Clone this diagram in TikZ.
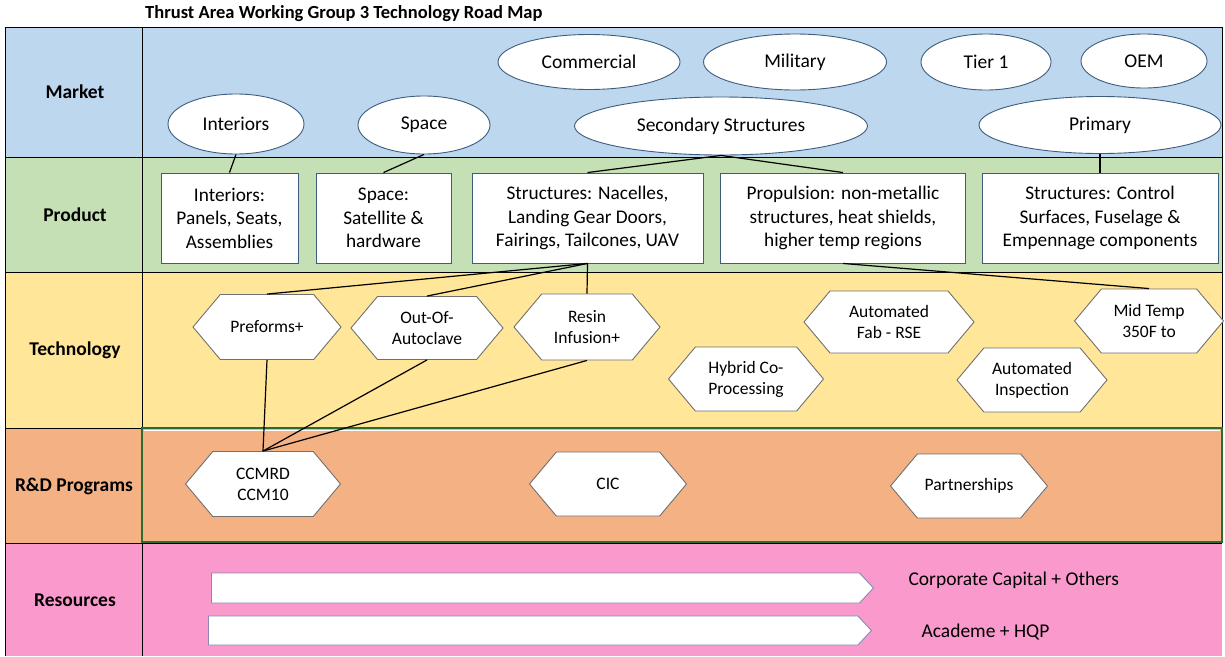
\documentclass[tikz,border=0pt]{standalone}
\usepackage{fontspec}
\setmainfont{Carlito}
\usetikzlibrary{shapes.geometric,shapes.symbols}
\definecolor{mkt}{HTML}{BDD7EE}
\definecolor{prd}{HTML}{C5E0B4}
\definecolor{tec}{HTML}{FFE699}
\definecolor{rnd}{HTML}{F4B183}
\definecolor{res}{HTML}{FA9ACC}
\definecolor{shp}{HTML}{3E5C7E}
\definecolor{hexc}{HTML}{707070}
\definecolor{arrc}{HTML}{8A86B8}
\definecolor{rndb}{HTML}{2E6B30}
\begin{document}
\begin{tikzpicture}[x=1pt,y=-1pt,
  ell/.style={ellipse, draw=shp, fill=white, line width=0.9pt, inner sep=0pt, font=\fontsize{19.5}{23.5}\selectfont},
  pbox/.style={rectangle, draw=shp, fill=white, line width=0.9pt, align=center, inner sep=0pt, minimum height=90pt, font=\fontsize{19.3}{23.5}\selectfont},
  hexn/.style={signal, signal to=east and west, signal pointer angle=100, draw=hexc, fill=white, line width=0.9pt, align=center, inner sep=0pt, font=\fontsize{17.5}{21}\selectfont},
  resarrow/.style={signal, signal to=east, signal from=nowhere, signal pointer angle=94, draw=arrc, fill=white, line width=0.9pt, inner sep=0pt, anchor=west},
  rowlab/.style={font=\fontsize{19.5}{23}\selectfont\bfseries},
  reslab/.style={anchor=west, font=\fontsize{19.5}{23}\selectfont},
  link/.style={line width=1.2pt, black},
  tbl/.style={line width=1pt, black}
]
\useasboundingbox (0,0) rectangle (1225,656);
% bands
\fill[mkt] (5,27) rectangle (1222,157);
\fill[prd] (5,157) rectangle (1222,272);
\fill[tec] (5,272) rectangle (1222,428);
\fill[rnd] (5,428) rectangle (1222,543);
\fill[res] (5,543) rectangle (1222,656);
% table lines
\draw[tbl] (5,656) -- (5,27) -- (1222,27) -- (1222,543);
\draw[tbl] (142,27) -- (142,656);
\draw[tbl] (5,157) -- (1222,157);
\draw[tbl] (5,272) -- (1222,272);
\draw[tbl] (5,428) -- (142,428);
\draw[tbl] (5,543) -- (1222,543);
\draw[rndb, line width=1.5pt] (142,428) rectangle (1222,542);
\draw[white, line width=1pt] (144,430.5) -- (1220,430.5);
% title
\node[font=\fontsize{18.5}{22}\selectfont\bfseries, anchor=west, inner sep=0pt] (title) at (145,14) {Thrust Area Working Group 3 Technology Road Map};
% row labels
\node[rowlab] (lmkt) at (75,92) {Market};
\node[rowlab] (lprd) at (75,215) {Product};
\node[rowlab] (ltec) at (75,350) {Technology};
\node[rowlab] (lrnd) at (74,486) {R\&D Programs};
\node[rowlab] (lres) at (75,600) {Resources};
% market ellipses
\node[ell, minimum width=182pt, minimum height=55pt] (ecom) at (589,62) {Commercial};
\node[ell, minimum width=183pt, minimum height=56pt] (emil) at (795,62) {Military};
\node[ell, minimum width=130pt, minimum height=56pt] (etier) at (986,62) {Tier 1};
\node[ell, minimum width=126pt, minimum height=54pt] (eoem) at (1144,61) {OEM};
\node[ell, minimum width=136pt, minimum height=60pt] (eint) at (236,124) {Interiors};
\node[ell, minimum width=132pt, minimum height=58pt] (espa) at (424,125) {Space};
\node[ell, minimum width=293pt, minimum height=58pt] (esec) at (721,126) {Secondary Structures};
\node[ell, minimum width=242pt, minimum height=57pt] (epri) at (1100,125) {Primary};
% product boxes
\node[pbox, minimum width=137pt] (pint) at (229.5,218) {Interiors:\\Panels, Seats,\\Assemblies};
\node[pbox, minimum width=135pt] (pspa) at (383.5,218) {Space:\\Satellite \&\\hardware};
\node[pbox, minimum width=231pt] (pnac) at (587.5,218) {Structures: Nacelles,\\Landing Gear Doors,\\Fairings, Tailcones, UAV};
\node[pbox, minimum width=245pt] (ppro) at (843,218) {Propulsion: non-metallic\\structures, heat shields,\\higher temp regions};
\node[pbox, minimum width=236pt] (pctl) at (1100,218) {Structures: Control\\Surfaces, Fuselage \&\\Empennage components};
% technology hexagons
\node[hexn, minimum width=148pt, minimum height=65pt] (tpre) at (267,327) {Preforms+};
\node[hexn, minimum width=152pt, minimum height=63pt] (tooa) at (427,328) {Out-Of-\\Autoclave};
\node[hexn, minimum width=146pt, minimum height=66pt] (tres) at (587,327) {Resin\\Infusion+};
\node[hexn, minimum width=155pt, minimum height=64pt] (thyb) at (746,379) {Hybrid Co-\\Processing};
\node[hexn, minimum width=170pt, minimum height=62pt] (tfab) at (889,322) {Automated\\Fab - RSE};
\node[hexn, minimum width=150pt, minimum height=64pt] (tins) at (1032,380) {Automated\\Inspection};
\node[hexn, minimum width=149pt, minimum height=64pt] (tmid) at (1149,321) {Mid Temp\\350F to};
% R&D hexagons
\node[hexn, minimum width=155pt, minimum height=65pt] (rccm) at (263,484) {CCMRD\\CCM10};
\node[hexn, minimum width=157pt, minimum height=64pt] (rcic) at (608,484) {CIC};
\node[hexn, minimum width=157pt, minimum height=64pt] (rpar) at (969,486) {Partnerships};
% resources
\node[resarrow, minimum width=662pt, minimum height=30pt] (acap) at (211,588) {};
\node[resarrow, minimum width=663pt, minimum height=29pt] (aaca) at (208,630.5) {};
\node[reslab] (lcap) at (905,580) {Corporate Capital + Others};
\node[reslab] (laca) at (918,632) {Academe + HQP};
% connectors
\draw[link] (eint.south) -- (pint.north);
\draw[link] (espa.south) -- (pspa.north);
\draw[link] (esec.south) -- (pnac.north);
\draw[link] (esec.south) -- (ppro.north);
\draw[link] (epri.south) -- (pctl.north);
\draw[link] (pnac.south) -- (tpre.north);
\draw[link] (pnac.south) -- (tooa.north);
\draw[link] (pnac.south) -- (tres.north);
\draw[link] (ppro.south) -- (tmid.north);
\draw[link] (tpre.south) -- (rccm.north);
\draw[link] (tooa.south) -- (rccm.north);
\draw[link] (tres.south) -- (rccm.north);
\end{tikzpicture}
\end{document}
